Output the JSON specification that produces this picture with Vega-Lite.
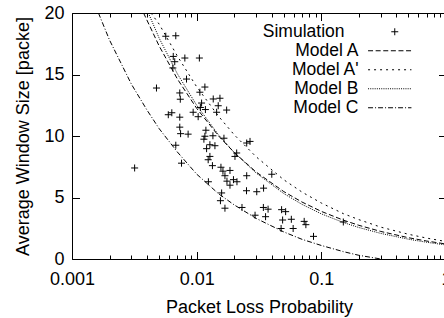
{
  "$schema": "https://vega.github.io/schema/vega-lite/v6.json",
  "autosize": "none",
  "width": 374,
  "height": 246,
  "padding": {"left": 72, "top": 13, "right": 0, "bottom": 59},
  "background": "white",
  "config": {
    "font": "Liberation Sans",
    "view": {"stroke": "black", "strokeWidth": 1},
    "axis": {"grid": false, "domain": false, "labelFont": "Liberation Sans", "titleFont": "Liberation Sans", "labelFontSize": 18, "titleFontSize": 18, "titleFontWeight": "normal", "labelColor": "black", "titleColor": "black", "tickColor": "black", "tickWidth": 1}
  },
  "datasets": {
    "sim": [
      {"p":0.00565,"w":18.11},{"p":0.0068,"w":18.15},{"p":0.00649,"w":16.47},{"p":0.00804,"w":16.34},{"p":0.01051,"w":16.34},
      {"p":0.00667,"w":16.04},{"p":0.00644,"w":15.53},{"p":0.00829,"w":14.63},{"p":0.00476,"w":13.9},{"p":0.00732,"w":13.5},
      {"p":0.00739,"w":12.99},{"p":0.01061,"w":13.56},{"p":0.01164,"w":13.98},{"p":0.01358,"w":13.01},{"p":0.01537,"w":13.07},
      {"p":0.01489,"w":12.46},{"p":0.0174,"w":12.11},{"p":0.01446,"w":11.93},{"p":0.00592,"w":11.73},{"p":0.00632,"w":11.89},
      {"p":0.00732,"w":11.53},{"p":0.00937,"w":11.93},{"p":0.01028,"w":11.57},{"p":0.01071,"w":12.32},{"p":0.01175,"w":12.15},
      {"p":0.01095,"w":12.68},{"p":0.00732,"w":10.72},{"p":0.00743,"w":10.19},{"p":0.00854,"w":10.15},{"p":0.01186,"w":10.47},
      {"p":0.01164,"w":9.98},{"p":0.0135,"w":10.02},{"p":0.01143,"w":9.74},{"p":0.01655,"w":9.82},{"p":0.01277,"w":9.29},
      {"p":0.01401,"w":9.21},{"p":0.0068,"w":9.25},{"p":0.0252,"w":9.43},{"p":0.02679,"w":9.56},{"p":0.01201,"w":8.97},
      {"p":0.02094,"w":8.62},{"p":0.02029,"w":8.34},{"p":0.01277,"w":8.34},{"p":0.01237,"w":8.07},{"p":0.00756,"w":7.79},
      {"p":0.01338,"w":7.59},{"p":0.01566,"w":7.46},{"p":0.01625,"w":7.14},{"p":0.0185,"w":7.2},{"p":0.01686,"w":6.77},
      {"p":0.0175,"w":6.33},{"p":0.01973,"w":6.45},{"p":0.02105,"w":6.28},{"p":0.0185,"w":6.0},{"p":0.0252,"w":6.77},
      {"p":0.04005,"w":6.89},{"p":0.02511,"w":5.55},{"p":0.03034,"w":5.47},{"p":0.03441,"w":5.76},{"p":0.01242,"w":6.28},
      {"p":0.01586,"w":5.37},{"p":0.01551,"w":4.74},{"p":0.01686,"w":4.13},{"p":0.0231,"w":4.19},{"p":0.03428,"w":4.19},
      {"p":0.0294,"w":3.56},{"p":0.03739,"w":4.05},{"p":0.0357,"w":3.44},{"p":0.048,"w":4.01},{"p":0.05171,"w":3.85},
      {"p":0.04891,"w":3.17},{"p":0.05747,"w":3.23},{"p":0.04757,"w":2.48},{"p":0.05941,"w":2.48},{"p":0.07287,"w":3.06},
      {"p":0.07517,"w":2.79},{"p":0.08653,"w":1.84},{"p":0.1501,"w":3.01},{"p":0.00318,"w":7.4}
    ],
    "models": [
      {"model":"Model A","p":0.00375,"w":20.0},{"model":"Model A","p":0.005,"w":17.32},{"model":"Model A","p":0.007,"w":14.64},
      {"model":"Model A","p":0.01,"w":12.25},{"model":"Model A","p":0.015,"w":10.0},{"model":"Model A","p":0.02,"w":8.66},
      {"model":"Model A","p":0.03,"w":7.07},{"model":"Model A","p":0.05,"w":5.48},{"model":"Model A","p":0.07,"w":4.63},
      {"model":"Model A","p":0.1,"w":3.87},{"model":"Model A","p":0.15,"w":3.16},{"model":"Model A","p":0.2,"w":2.74},
      {"model":"Model A","p":0.3,"w":2.24},{"model":"Model A","p":0.5,"w":1.73},{"model":"Model A","p":0.7,"w":1.46},
      {"model":"Model A","p":1.0,"w":1.22},
      {"model":"Model A'","p":0.0043,"w":20.0},{"model":"Model A'","p":0.005,"w":19.1},{"model":"Model A'","p":0.007,"w":16.5},
      {"model":"Model A'","p":0.01,"w":14.0},{"model":"Model A'","p":0.015,"w":11.6},{"model":"Model A'","p":0.02,"w":10.1},
      {"model":"Model A'","p":0.03,"w":8.31},{"model":"Model A'","p":0.05,"w":6.44},{"model":"Model A'","p":0.07,"w":5.44},
      {"model":"Model A'","p":0.1,"w":4.55},{"model":"Model A'","p":0.15,"w":3.69},{"model":"Model A'","p":0.2,"w":3.2},
      {"model":"Model A'","p":0.3,"w":2.59},{"model":"Model A'","p":0.5,"w":2.01},{"model":"Model A'","p":0.7,"w":1.7},
      {"model":"Model A'","p":1.0,"w":1.42},
      {"model":"Model B","p":0.0041,"w":20.0},{"model":"Model B","p":0.005,"w":17.96},{"model":"Model B","p":0.007,"w":15.06},
      {"model":"Model B","p":0.01,"w":12.5},{"model":"Model B","p":0.015,"w":10.08},{"model":"Model B","p":0.02,"w":8.66},
      {"model":"Model B","p":0.03,"w":6.99},{"model":"Model B","p":0.05,"w":5.32},{"model":"Model B","p":0.07,"w":4.44},
      {"model":"Model B","p":0.1,"w":3.67},{"model":"Model B","p":0.15,"w":2.97},{"model":"Model B","p":0.2,"w":2.56},
      {"model":"Model B","p":0.3,"w":2.08},{"model":"Model B","p":0.5,"w":1.61},{"model":"Model B","p":0.7,"w":1.36},
      {"model":"Model B","p":1.0,"w":1.14},
      {"model":"Model C","p":0.00163,"w":20.0},{"model":"Model C","p":0.002,"w":17.8},{"model":"Model C","p":0.003,"w":14.2},
      {"model":"Model C","p":0.004,"w":12.1},{"model":"Model C","p":0.005,"w":10.6},{"model":"Model C","p":0.007,"w":8.7},
      {"model":"Model C","p":0.01,"w":6.9},{"model":"Model C","p":0.015,"w":5.3},{"model":"Model C","p":0.02,"w":4.4},
      {"model":"Model C","p":0.03,"w":3.3},{"model":"Model C","p":0.05,"w":2.2},{"model":"Model C","p":0.07,"w":1.6},
      {"model":"Model C","p":0.1,"w":1.1},{"model":"Model C","p":0.15,"w":0.6},{"model":"Model C","p":0.2,"w":0.3},
      {"model":"Model C","p":0.3,"w":0.0}
    ]
  },
  "resolve": {"axis": {"x": "independent", "y": "independent"}},
  "layer": [
    {
      "data": {"name": "sim"},
      "mark": {"type": "point", "filled": false, "stroke": "black", "strokeWidth": 1, "size": 49, "opacity": 1},
      "encoding": {
        "x": {"field": "p", "type": "quantitative", "scale": {"type": "log", "domain": [0.001, 1], "nice": false},
              "axis": {"orient": "bottom", "values": [0.001, 0.01, 0.1, 1], "format": "~g", "ticks": false, "labelPadding": 11, "labelFlush": false, "labelOverlap": false, "title": "Packet Loss Probability", "titlePadding": 10}},
        "y": {"field": "w", "type": "quantitative", "scale": {"domain": [0, 20], "nice": false},
              "axis": {"orient": "left", "values": [0, 5, 10, 15, 20], "ticks": false, "labelPadding": 8, "labelFlush": false, "labelOverlap": false, "title": "Average Window Size [packe]", "titlePadding": 11}},
        "shape": {"datum": "Simulation", "scale": {"range": ["M-1,0H1M0,-1V1"]},
                  "legend": {"orient": "none", "legendX": 314, "legendY": 10, "title": null, "padding": 0, "symbolSize": 49, "symbolStrokeColor": "black", "symbolStrokeWidth": 1, "symbolFillColor": "transparent", "labelAlign": "right", "labelOffset": -59, "labelFontSize": 17.5, "labelFont": "Liberation Sans", "labelColor": "black", "labelLimit": 300}}
      }
    },
    {
      "data": {"name": "models"},
      "mark": {"type": "line", "stroke": "black", "strokeWidth": 1, "clip": true},
      "encoding": {
        "x": {"field": "p", "type": "quantitative", "axis": {"orient": "bottom", "values": [0.001, 0.01, 0.1, 1], "labels": false, "tickSize": -7.5, "title": null}},
        "y": {"field": "w", "type": "quantitative", "axis": {"orient": "left", "values": [0, 5, 10, 15, 20], "labels": false, "tickSize": -7.5, "title": null}},
        "strokeDash": {"field": "model", "type": "nominal",
                       "scale": {"domain": ["Model A", "Model A'", "Model B", "Model C"], "range": [[5, 2.6], [2, 4], [1, 1.2], [5, 2, 1, 2]]},
                       "legend": {"orient": "none", "legendX": 309, "legendY": 29, "title": null, "padding": 0, "rowPadding": 0, "symbolType": "M-4.1,0H4.1", "symbolSize": 112, "symbolStrokeColor": "black", "symbolStrokeWidth": 1, "labelAlign": "right", "labelOffset": -40, "labelFontSize": 17.5, "labelFont": "Liberation Sans", "labelColor": "black", "labelLimit": 300}}
      }
    },
    {
      "data": {"name": "sim"},
      "mark": {"type": "point", "opacity": 0},
      "encoding": {
        "x": {"field": "p", "type": "quantitative", "axis": {"orient": "bottom", "values": [0.002,0.003,0.004,0.005,0.006,0.007,0.008,0.009,0.02,0.03,0.04,0.05,0.06,0.07,0.08,0.09,0.2,0.3,0.4,0.5,0.6,0.7,0.8,0.9], "labels": false, "tickSize": -4, "title": null}},
        "y": {"field": "w", "type": "quantitative", "axis": {"orient": "right", "values": [0, 5, 10, 15, 20], "labels": false, "tickSize": -7.5, "title": null}}
      }
    },
    {
      "data": {"name": "sim"},
      "mark": {"type": "point", "opacity": 0},
      "encoding": {
        "x": {"field": "p", "type": "quantitative", "axis": {"orient": "top", "values": [0.001, 0.01, 0.1, 1], "labels": false, "tickSize": -7.5, "title": null}},
        "y": {"field": "w", "type": "quantitative", "axis": null}
      }
    },
    {
      "data": {"name": "sim"},
      "mark": {"type": "point", "opacity": 0},
      "encoding": {
        "x": {"field": "p", "type": "quantitative", "axis": {"orient": "top", "values": [0.002,0.003,0.004,0.005,0.006,0.007,0.008,0.009,0.02,0.03,0.04,0.05,0.06,0.07,0.08,0.09,0.2,0.3,0.4,0.5,0.6,0.7,0.8,0.9], "labels": false, "tickSize": -4, "title": null}},
        "y": {"field": "w", "type": "quantitative", "axis": null}
      }
    }
  ]
}
